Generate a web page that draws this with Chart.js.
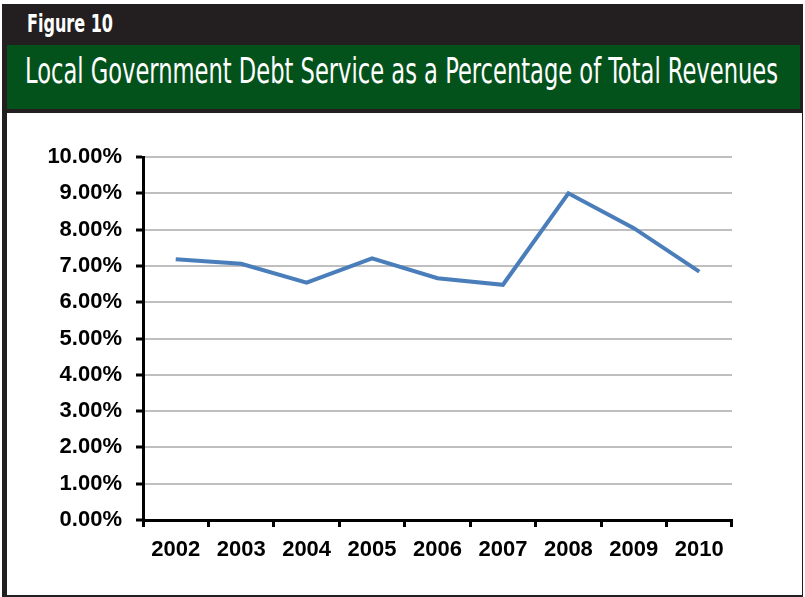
<!DOCTYPE html>
<html>
<head>
<meta charset="utf-8">
<script src="https://cdn.jsdelivr.net/npm/chart.js@4.4.1/dist/chart.umd.min.js"></script>
<style>
    html, body { margin: 0; padding: 0; background: #fff; }
    #page { position: relative; width: 805px; height: 597px; overflow: hidden; background: #fff; }
    .band { position: absolute; background: #231f20; }
    #green { position: absolute; left: 7px; top: 45px; width: 793px; height: 64px; background: #03521b; }
    .label { position: absolute; color: #fff; white-space: nowrap; transform-origin: 0 0; }
    #fig { left: 27px; top: 10px; font: bold 24px "Liberation Sans Narrow", "DejaVu Sans Condensed", sans-serif; }
    #title { left: 25px; top: 50px; font: 36px "Liberation Sans Narrow", "DejaVu Sans Condensed", sans-serif; }
    #panel { position: absolute; left: 7px; top: 113px; width: 795px; height: 482px; }
    #rightLine { position: absolute; left: 802px; top: 113px; width: 1px; height: 484px; background: #231f20; }
    #bottomLine { position: absolute; left: 2px; top: 595px; width: 801px; height: 2px; background: #231f20; }
</style>
</head>
<body>
<div id="page">
    <div class="band" style="left:2px; top:4px; width:801px; height:109px;"></div>
    <div class="band" style="left:2px; top:4px; width:5px; height:593px;"></div>
    <div id="green"></div>
    <div id="fig" class="label" data-w="86">Figure 10</div>
    <div id="title" class="label" data-w="753">Local Government Debt Service as a Percentage of Total Revenues</div>
    <div id="panel"><canvas id="chart" width="795" height="482"></canvas></div>
    <div id="rightLine"></div>
    <div id="bottomLine"></div>
</div>
<script>
// data
const years = ['2002', '2003', '2004', '2005', '2006', '2007', '2008', '2009', '2010'];
const debtServicePct = [7.18, 7.06, 6.54, 7.21, 6.66, 6.48, 9.00, 8.04, 6.84];
const yTicks = [0, 1, 2, 3, 4, 5, 6, 7, 8, 9, 10];

// squeeze the banner text to the width it has in the figure
document.querySelectorAll('.label').forEach(el => {
    const w = el.getBoundingClientRect().width;
    el.style.transform = `scaleX(${el.dataset.w / w})`;
});

const tickFont = { family: '"Liberation Sans", Arial, sans-serif', size: 22, weight: 'bold' };

new Chart(document.getElementById('chart'), {
    type: 'line',
    data: {
        labels: years,
        datasets: [{
            data: debtServicePct,
            borderColor: '#4a7ebb',
            borderWidth: 4,
            pointRadius: 0,
            tension: 0,
            fill: false
        }]
    },
    options: {
        responsive: false,
        animation: false,
        layout: { padding: { left: 0, top: 44, right: 70, bottom: 0 } },
        plugins: { legend: { display: false }, tooltip: { enabled: false } },
        scales: {
            x: {
                offset: true,
                grid: {
                    offset: true,
                    drawOnChartArea: false,
                    tickLength: 7,
                    tickColor: '#000',
                    tickWidth: 3
                },
                border: { color: '#000', width: 3 },
                ticks: { color: '#000', font: tickFont, padding: 10, maxRotation: 0 },
                afterFit: scale => { scale.height = 75; }
            },
            y: {
                min: 0,
                max: 10,
                afterBuildTicks: scale => { scale.ticks = yTicks.map(v => ({ value: v })); },
                grid: {
                    color: '#bfbfbf',
                    lineWidth: 2,
                    tickLength: 7,
                    tickColor: '#000',
                    tickWidth: 3
                },
                border: { color: '#000', width: 3 },
                ticks: {
                    color: '#000',
                    font: tickFont,
                    padding: 14,
                    callback: v => v.toFixed(2) + '%'
                },
                afterFit: scale => { scale.width = 136; }
            }
        }
    }
});
</script>
</body>
</html>
